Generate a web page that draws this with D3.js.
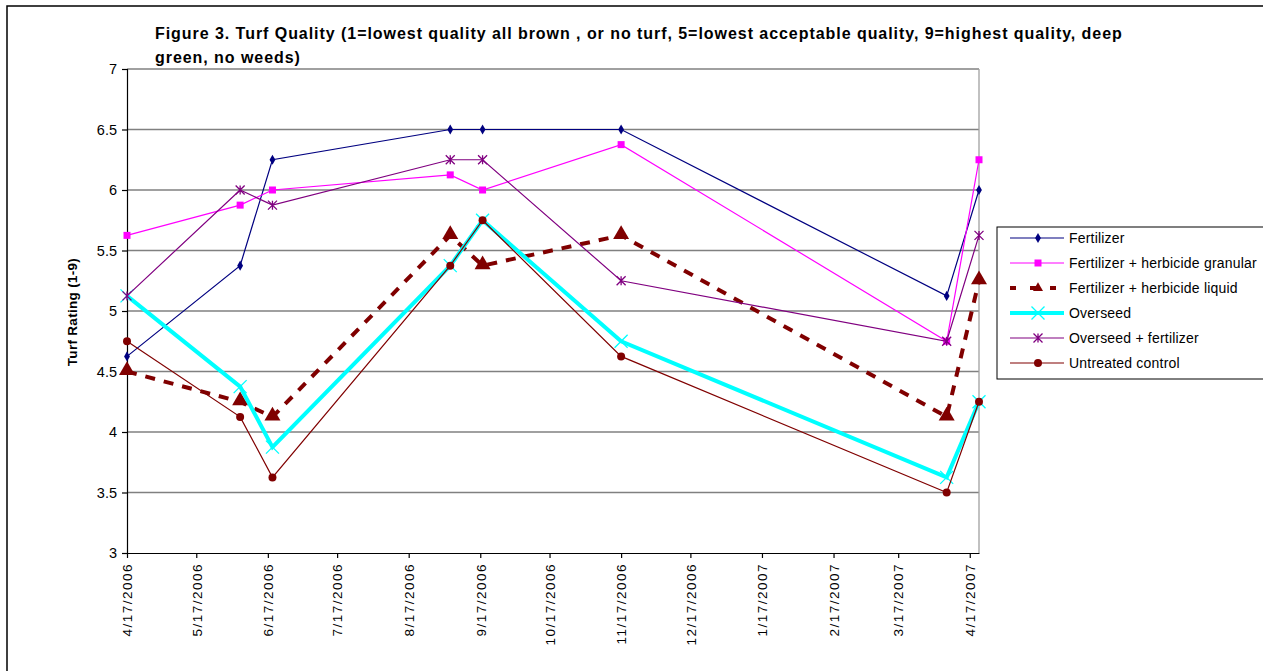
<!DOCTYPE html>
<html>
<head>
<meta charset="utf-8">
<style>
  body { margin: 0; background: #fff; }
  svg { display: block; font-family: "Liberation Sans", Arial, sans-serif; }
</style>
</head>
<body>
<svg width="1263" height="671"></svg>

<script src="https://d3js.org/d3.v7.min.js"></script>
<script>

	// Turf quality ratings
	const dates = ["2006-04-17", "2006-06-05", "2006-06-19", "2006-09-04", "2006-09-18", "2006-11-17", "2007-04-07", "2007-04-21"]

	const fertilizer = [4.625, 5.375, 6.25, 6.5, 6.5, 6.5, 5.125, 6.0]
	const granular = [5.625, 5.875, 6.0, 6.125, 6.0, 6.375, 4.75, 6.25]
	const liquid = [4.5, 4.25, 4.125, 5.625, 5.375, 5.625, 4.125, 5.25]
	const overseed = [5.125, 4.375, 3.875, 5.375, 5.75, 4.75, 3.625, 4.25]
	const overseedFert = [5.125, 6.0, 5.875, 6.25, 6.25, 5.25, 4.75, 5.625]
	const untreated = [4.75, 4.125, 3.625, 5.375, 5.75, 4.625, 3.5, 4.25]

	const seriesNames = ["Fertilizer", "Fertilizer + herbicide granular", "Fertilizer + herbicide liquid", "Overseed", "Overseed + fertilizer", "Untreated control"]

	const xTicks = ["2006-04-17", "2006-05-17", "2006-06-17", "2006-07-17", "2006-08-17", "2006-09-17", "2006-10-17", "2006-11-17", "2006-12-17", "2007-01-17", "2007-02-17", "2007-03-17", "2007-04-17"]
	const yTicks = [3, 3.5, 4, 4.5, 5, 5.5, 6, 6.5, 7]

	const title = ["Figure 3. Turf Quality (1=lowest quality all brown , or no turf, 5=lowest acceptable quality, 9=highest quality, deep", "green, no weeds)"]

	// style per series (legend order = draw order)
	const styles = [
		{color: "#000080", width: 1.2, dash: null, marker: "diamond", size: 7},
		{color: "#ff00ff", width: 1.2, dash: null, marker: "square", size: 7},
		{color: "#800000", width: 4, dash: "10,9", marker: "triangle", size: 16},
		{color: "#00ffff", width: 4, dash: null, marker: "x", size: 13},
		{color: "#800080", width: 1.2, dash: null, marker: "star", size: 9},
		{color: "#800000", width: 1.2, dash: null, marker: "circle", size: 8}
	]

	const parse = d3.timeParse("%Y-%m-%d")
	const fmt = d3.timeFormat("%-m/%-d/%Y")
	const allValues = [fertilizer, granular, liquid, overseed, overseedFert, untreated]

	const series = seriesNames.map((name, i) => ({
		name: name,
		style: styles[i],
		points: dates.map((d, j) => ({date: parse(d), value: allValues[i][j]}))
	}))

	const svg = d3.select("svg")

	// outer chart border
	svg.append("rect")
		.attr("x", 7).attr("y", 6)
		.attr("width", 1270).attr("height", 700)
		.attr("fill", "none")
		.attr("stroke", "#000")
		.attr("stroke-width", 1.5)

	const plotLeft = 127, plotRight = 979, plotTop = 69, plotBottom = 553

	const x = d3.scaleTime()
		.domain([parse(dates[0]), parse(dates[dates.length - 1])])
		.range([plotLeft, plotRight])

	const y = d3.scaleLinear()
		.domain([3, 7])
		.range([plotBottom, plotTop])

	// gridlines
	svg.append("g")
		.selectAll("line")
		.data(yTicks.filter(d => d > 3))
		.join("line")
			.attr("x1", plotLeft).attr("x2", plotRight)
			.attr("y1", d => y(d)).attr("y2", d => y(d))
			.attr("stroke", "#808080")
			.attr("stroke-width", 1.3)

	// right border of plot area
	svg.append("line")
		.attr("x1", plotRight).attr("x2", plotRight)
		.attr("y1", plotTop).attr("y2", plotBottom)
		.attr("stroke", "#a0a0a0")
		.attr("stroke-width", 1.3)

	// y axis
	const yAxis = svg.append("g")
		.attr("transform", `translate(${plotLeft},0)`)
		.call(d3.axisLeft(y).tickValues(yTicks).tickFormat(d3.format("")).tickSize(5).tickPadding(5))
	yAxis.selectAll("text").attr("font-size", 14.5).attr("fill", "#000").attr("font-family", "Liberation Sans, Arial")
	yAxis.selectAll("line, path").attr("stroke", "#000").attr("stroke-width", 1.2)

	// x axis
	const xAxis = svg.append("g")
		.attr("transform", `translate(0,${plotBottom})`)
		.call(d3.axisBottom(x).tickValues(xTicks.map(parse)).tickFormat(fmt).tickSize(5).tickSizeOuter(0))
	xAxis.select("path").attr("stroke", "#000").attr("stroke-width", 1.2)
	xAxis.selectAll("line").attr("stroke", "#000").attr("stroke-width", 1.2)
	xAxis.selectAll("text")
		.attr("font-size", 13.5)
		.attr("font-family", "Liberation Sans, Arial")
		.attr("letter-spacing", "1.5px")
		.attr("fill", "#000")
		.attr("transform", "rotate(-90)")
		.attr("text-anchor", "end")
		.attr("x", -10).attr("y", 0).attr("dy", "0.35em")

	// marker shapes
	function markerPath(type, s) {
		const h = s / 2
		if (type === "x") return `M${-h},${-h}L${h},${h}M${-h},${h}L${h},${-h}`
		if (type === "star") return `M${-h},${-h}L${h},${h}M${-h},${h}L${h},${-h}M0,${-h}L0,${h}`
		const sym = {diamond: d3.symbolDiamond, square: d3.symbolSquare, triangle: d3.symbolTriangle, circle: d3.symbolCircle}[type]
		const area = type === "circle" ? Math.PI * h * h : type === "triangle" ? s * s * 0.433 : type === "diamond" ? s * s * 0.6 : s * s
		return d3.symbol(sym, area)()
	}

	const line = d3.line()
		.x(d => x(d.date))
		.y(d => y(d.value))

	const plot = svg.append("g")

	series.forEach(s => {
		const st = s.style
		plot.append("path")
			.datum(s.points)
			.attr("d", line)
			.attr("fill", "none")
			.attr("stroke", st.color)
			.attr("stroke-width", st.width)
			.attr("stroke-dasharray", st.dash)
			.attr("stroke-linejoin", "miter")

		const open = st.marker === "x" || st.marker === "star"
		plot.append("g")
			.selectAll("path")
			.data(s.points)
			.join("path")
				.attr("transform", d => `translate(${x(d.date)},${y(d.value) + (st.marker === "triangle" ? -1 : 0)})`)
				.attr("d", markerPath(st.marker, st.size))
				.attr("fill", open ? "none" : st.color)
				.attr("stroke", st.color)
				.attr("stroke-width", open ? 1.3 : 0)
	})

	// title
	svg.append("g")
		.selectAll("text")
		.data(title)
		.join("text")
			.attr("x", 155)
			.attr("y", (d, i) => 39 + i * 24)
			.attr("font-size", 16)
			.attr("font-weight", "bold")
			.attr("letter-spacing", "0.95px")
			.text(d => d)

	// y axis title
	svg.append("text")
		.attr("transform", "translate(77,312) rotate(-90)")
		.attr("text-anchor", "middle")
		.attr("font-size", 13.5)
		.attr("font-weight", "bold")
		.attr("letter-spacing", "0.3px")
		.text("Turf Rating (1-9)")

	// legend
	const legend = svg.append("g")
	legend.append("rect")
		.attr("x", 997).attr("y", 227)
		.attr("width", 280).attr("height", 152)
		.attr("fill", "#fff")
		.attr("stroke", "#000")
		.attr("stroke-width", 1)

	const item = legend.selectAll("g.item")
		.data(series)
		.join("g")
			.attr("class", "item")
			.attr("transform", (d, i) => `translate(0,${238 + i * 25})`)

	item.append("line")
		.attr("x1", 1010).attr("x2", 1064)
		.attr("stroke", d => d.style.color)
		.attr("stroke-width", d => d.style.width)
		.attr("stroke-dasharray", d => d.style.dash ? "6,14" : null)

	item.append("path")
		.attr("transform", "translate(1038,0)")
		.attr("d", d => markerPath(d.style.marker, d.style.marker === "triangle" ? 10 : d.style.size))
		.attr("fill", d => (d.style.marker === "x" || d.style.marker === "star") ? "none" : d.style.color)
		.attr("stroke", d => d.style.color)
		.attr("stroke-width", d => (d.style.marker === "x" || d.style.marker === "star") ? 1.3 : 0)

	item.append("text")
		.attr("x", 1069)
		.attr("dy", "0.35em")
		.attr("font-size", 14)
		.attr("letter-spacing", "0.2px")
		.text(d => d.name)

</script>
</body>
</html>
